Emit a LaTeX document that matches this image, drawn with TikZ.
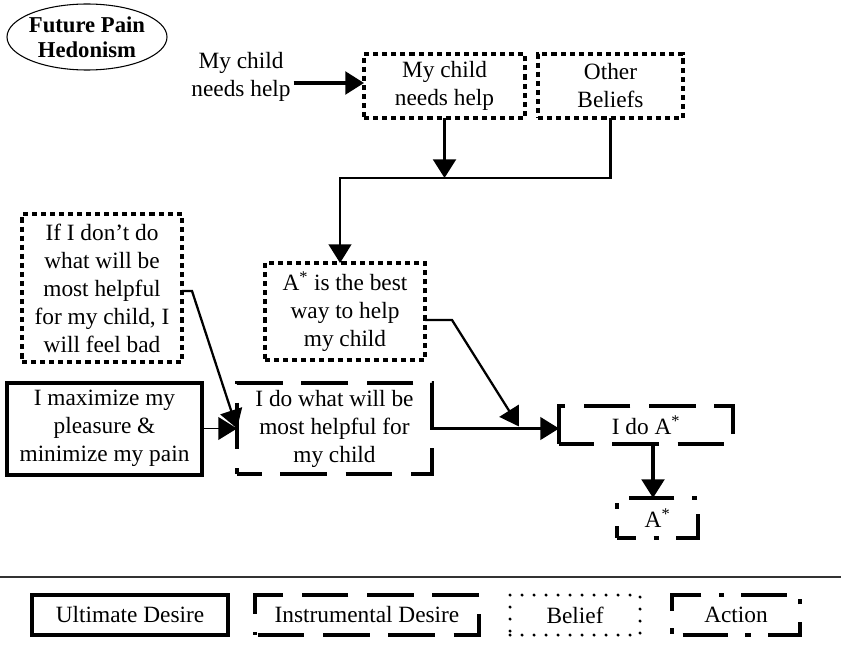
\documentclass[tikz,border=0pt]{standalone}
\usepackage{fontspec}
\setmainfont{Liberation Serif}
\usetikzlibrary{arrows.meta,calc,shapes.geometric}

\begin{document}
\begin{tikzpicture}[x=0.75pt,y=-0.75pt,
  every node/.style={font=\fontsize{17.5}{21}\selectfont, align=center, inner sep=0pt, outer sep=0pt},
  sz/.style 2 args={minimum width=#1*0.75pt, minimum height=#2*0.75pt},
  ultimate/.style={draw, line width=3pt},
  instrumental/.style={draw, line width=2.8pt, dash pattern=on 35pt off 14pt, dash phase=16.5pt},
  belief/.style={draw, line width=2.6pt, dash pattern=on 3.8pt off 3pt},
  beliefkey/.style={draw, line width=2.6pt, line cap=round, dash pattern=on 0pt off 9pt},
  action/.style={draw, line width=2.4pt, dash pattern=on 34pt off 13pt on 4pt off 13pt, dash phase=19.5pt},
  tip/.style={-{Triangle[length=14pt,width=17pt]}},
  heavy/.style={line width=2.4pt},
  medium/.style={line width=1.7pt},
  light/.style={line width=1.2pt},
]
\useasboundingbox (0,0) rectangle (841,649);

% title
\node[ellipse, draw, line width=0.8pt, sz={160}{66}, inner xsep=-7pt, inner ysep=-3pt,
      font=\fontsize{17}{19}\selectfont\bfseries] (fph) at (87,37) {Future Pain\\Hedonism};

% beliefs
\node (say) at (241,77) {My child\\needs help};
\node[belief, sz={161}{64}] (bel1) at (444.5,86) {My child\\needs help};
\node[belief, sz={145}{64}] (bel2) at (610.5,86) {Other\\Beliefs};
\node[belief, sz={160}{97}] (bel3) at (345,311.5) {A\textsuperscript{*} is the best\\way to help\\my child};
\node[belief, sz={160}{148}] (bel4) at (102,288) {If I don’t do\\what will be\\most helpful\\for my child, I\\will feel bad};

% desires
\node[ultimate, sz={195}{92}] (ult) at (104.5,428.5) {I maximize my\\pleasure \&\\minimize my pain};
\node[instrumental, sz={195}{91}] (ins) at (334.5,428.5) {I do what will be\\most helpful for\\my child};

% actions
\node[action, dash pattern=on 35pt off 14pt, dash phase=9pt, sz={174}{38}] (act1) at (646,425) {I do A\textsuperscript{*}};
\node[action, sz={81}{40}] (act2) at (657.5,518) {A\textsuperscript{*}};

% connectors
\coordinate (j) at (340,178);
\draw[heavy,tip] ($(say.east)+(3,6)$) coordinate (s0) -- (s0 -| bel1.west);
\draw[heavy,tip] (bel1.south) -- (bel1.south |- j);
\draw[medium,tip] (bel2.south) |- (j) -- (j |- bel3.north);
\draw[medium,tip] ($(bel4.east)+(0,3)$) -- ++(10,0) -- (ins.west);
\draw[light,tip] (ult.east) -- (ins.west);
\draw[medium,tip] (ins.east) -- (ins.east -| act1.west);
\coordinate (k) at ($(ins.east -| act1.west)+(-40,-2)$);
\draw[medium,tip] ($(bel3.east)+(0,8.5)$) -- ++(27,0) -- (k);
\draw[heavy,tip] ($(act1.south)+(7,0)$) coordinate (a0) -- (a0 |- act2.north);

% key
\coordinate (rl) at (0,577);
\coordinate (rr) at (841,577);
\draw[line width=1.2pt, black!80] (rl) -- (rr);
\node[ultimate, line width=2.6pt, sz={196}{40}] (k1) at (130,615) {Ultimate Desire};
\node[instrumental, dash phase=47pt, sz={224}{40}] (k2) at (367,615) {Instrumental Desire};
\node[beliefkey, sz={130}{40}] (k3) at (575,615) {Belief};
\node[action, dash phase=56pt, sz={128}{40}] (k4) at (736,615) {Action};
\end{tikzpicture}
\end{document}
